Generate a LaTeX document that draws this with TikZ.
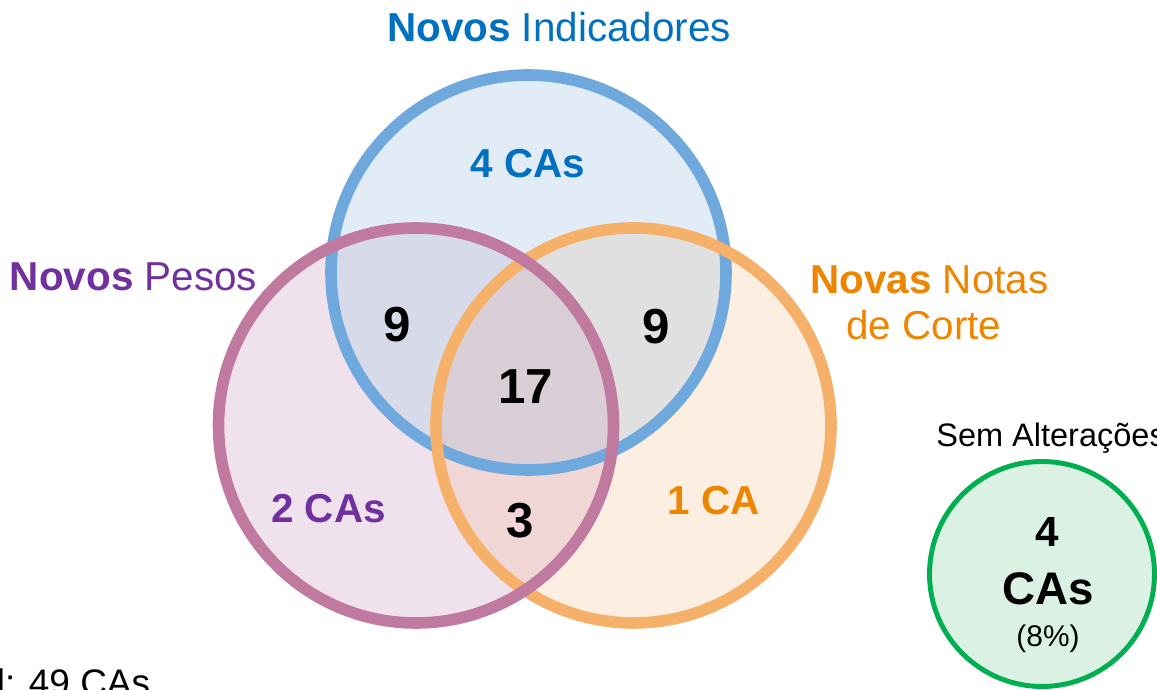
\documentclass[tikz,border=0pt]{standalone}
\usepackage{fontspec}
\setmainfont{Liberation Sans}
\definecolor{indtext}{HTML}{0070C0}
\definecolor{indline}{HTML}{6FA8DC}
\definecolor{indfill}{HTML}{E1ECF7}
\definecolor{pestext}{HTML}{7030A0}
\definecolor{pesline}{HTML}{C0799F}
\definecolor{pesfill}{HTML}{F0E2EC}
\definecolor{nottext}{HTML}{EE8500}
\definecolor{notline}{HTML}{F5B06A}
\definecolor{notfill}{HTML}{FCEEE1}
\definecolor{semline}{HTML}{00B050}
\definecolor{semfill}{HTML}{DAF1E3}
\definecolor{ipfill}{HTML}{D7DAE8}
\definecolor{infill}{HTML}{E0E0E0}
\definecolor{pnfill}{HTML}{F0D6D4}
\definecolor{allfill}{HTML}{D9CED6}
\tikzset{
  ring/.style={line width=6.6pt},
  big/.style={font=\fontsize{23}{28}\selectfont, anchor=base},
  num/.style={font=\fontsize{28}{34}\selectfont\bfseries, anchor=base},
  small/.style={font=\fontsize{17}{20}\selectfont, anchor=base}
}
\begin{document}
\begin{tikzpicture}
    \useasboundingbox (0,0) rectangle (23.14,13.8);
    \clip (0,0) rectangle (23.14,13.8);
    \coordinate (ind) at (10.57,8.35);
    \coordinate (pes) at (8.32,5.29);
    \coordinate (not) at (12.67,5.29);
    \coordinate (sem) at (20.84,2.32);
    % fills of the three sets and their overlaps
    \fill [indfill] (ind) circle (3.95);
    \fill [pesfill] (pes) circle (3.95);
    \fill [notfill] (not) circle (3.95);
    \begin{scope}
    \clip (pes) circle (3.95);
    \fill [pnfill] (not) circle (3.95);
    \end{scope}
    \begin{scope}
    \clip (ind) circle (3.95);
    \fill [ipfill] (pes) circle (3.95);
    \fill [infill] (not) circle (3.95);
    \clip (pes) circle (3.95);
    \fill [allfill] (not) circle (3.95);
    \end{scope}
    \draw [ring, indline] (ind) circle (3.95);
    \draw [ring, notline] (not) circle (3.95);
    \draw [ring, pesline] (pes) circle (3.95);
    \draw [line width=2.8pt, semline, fill=semfill] (sem) circle (2.25);
    % labels
    \node [big, indtext] (tind) at (11.18,12.96) {\textbf{Novos} Indicadores};
    \node [big, pestext] (tpes) at (2.67,7.98) {\textbf{Novos} Pesos};
    \node [big, nottext] (tnot) at (18.59,7.93) {\textbf{Novas} Notas};
    \node [big, nottext] (tnot2) at (18.48,7.0) {de Corte};
    \node [big, indtext] (cind) at (10.56,10.24) {\textbf{4 CAs}};
    \node [big, pestext] (cpes) at (6.57,3.34) {\textbf{2 CAs}};
    \node [big, nottext] (cnot) at (14.27,3.5) {\textbf{1 CA}};
    \node [num] (nip) at (7.94,6.96) {9};
    \node [num] (nin) at (13.12,6.92) {9};
    \node [num] (nall) at (10.51,5.72) {17};
    \node [num] (npn) at (10.4,3.04) {3};
    \node [small, font=\fontsize{18.5}{22}\selectfont, anchor=base west, inner sep=0] (tsem) at (18.72,4.87) {Sem Alterações};
    \node [big, font=\fontsize{24}{28}\selectfont\bfseries] (csem) at (20.94,2.86) {4};
    \node [big, font=\fontsize{26}{30}\selectfont\bfseries] (csem2) at (20.96,1.7) {CAs};
    \node [small] (psem) at (20.96,0.86) {(8\%)};
    \node [font=\fontsize{21}{25}\selectfont, anchor=base west, inner sep=0] (total) at (-0.07,-0.12) {l: 49 CAs};
\end{tikzpicture}
\end{document}
